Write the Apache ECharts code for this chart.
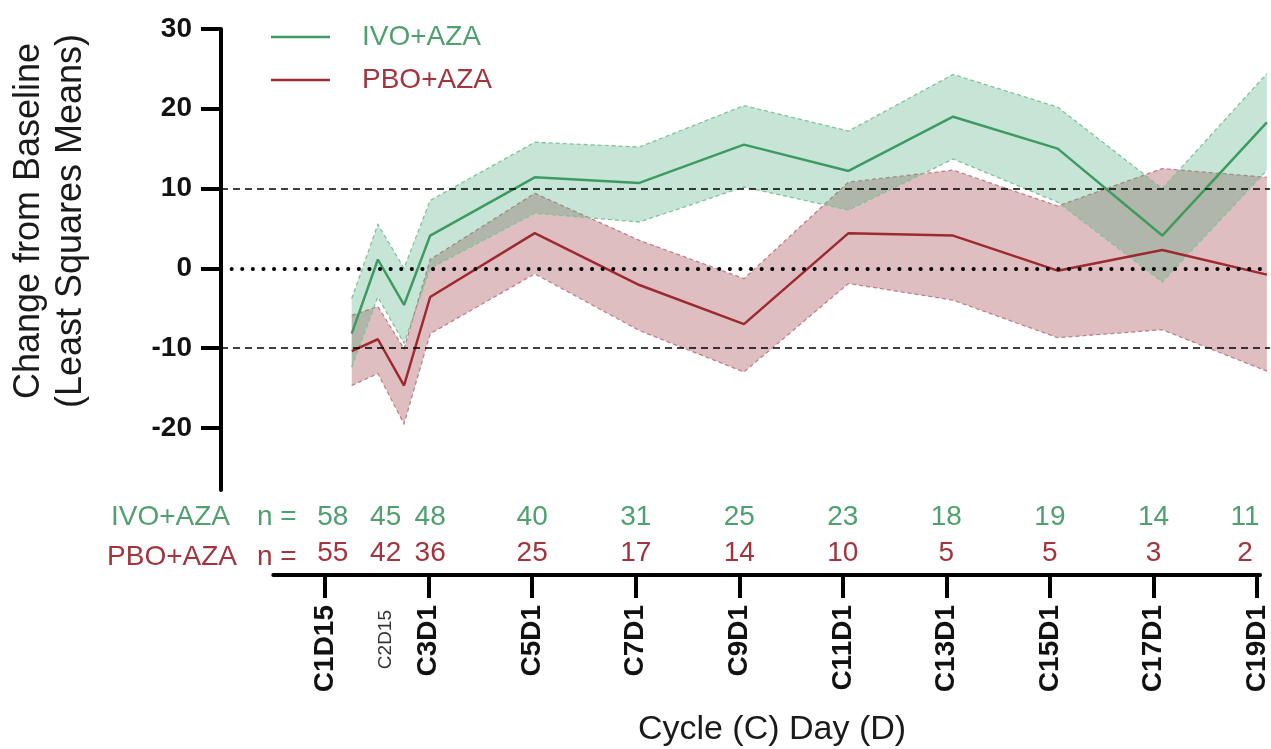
<!DOCTYPE html>
<html><head><meta charset="utf-8">
<script src="https://cdn.jsdelivr.net/npm/echarts@6/dist/echarts.min.js"></script>
<style>html,body{margin:0;padding:0;background:#fff}#c{width:1271px;height:749px}</style>
</head><body><div id="c"></div>
<script>
// ---- data (x in cycle units: 1 = C1D15 tick, 3 = C3D1, ...) ----
const visits   = [1.5, 2, 2.5, 3, 5, 7, 9, 11, 13, 15, 17, 19];
const ivoMean  = [-8.2, 1.1, -4.6, 4.1, 11.4, 10.7, 15.5, 12.2, 19.0, 15.0, 4.1, 18.3];
const ivoUpper = [-3.8, 5.5, 0.0, 8.5, 15.8, 15.2, 20.4, 17.2, 24.3, 20.2, 10.0, 24.4];
const ivoLower = [-12.4, -3.6, -9.4, 0.0, 6.9, 5.8, 10.2, 7.3, 13.7, 8.3, -1.7, 12.3];
const pboMean  = [-10.4, -8.9, -14.7, -3.6, 4.4, -2.1, -7.0, 4.4, 4.1, -0.3, 2.3, -0.8];
const pboUpper = [-5.9, -4.8, -10.1, 1.1, 9.4, 3.5, -1.3, 10.8, 12.3, 7.8, 12.5, 11.4];
const pboLower = [-14.7, -13.2, -19.5, -8.2, -0.7, -7.8, -13.0, -1.9, -4.0, -8.7, -7.7, -12.9];

const tickValues = [1, 3, 5, 7, 9, 11, 13, 15, 17, 19];
const tickLabels = ['C1D15', 'C3D1', 'C5D1', 'C7D1', 'C9D1', 'C11D1', 'C13D1', 'C15D1', 'C17D1', 'C19D1'];
const minorTickValue = 2.17;
const minorTickLabel = 'C2D15';

const nPositions = [1.15, 2.17, 3.03, 5, 7, 9, 11, 13, 15, 17, 18.77];
const nIvo = [58, 45, 48, 40, 31, 25, 23, 18, 19, 14, 11];
const nPbo = [55, 42, 36, 25, 17, 14, 10, 5, 5, 3, 2];

const yTicks = [-20, -10, 0, 10, 20, 30];
const refDashed = [10, -10];
const refDotted = [0];

// ---- styles ----
const FONT = 'Liberation Sans, Arial, Helvetica, sans-serif';
const GREEN_LINE = '#3f9a62', GREEN_TEXT = '#4fa06e', GREEN_FILL = 'rgba(70,170,120,0.30)', GREEN_EDGE = '#7fc29b';
const RED_LINE = '#9c2a30', RED_TEXT = '#a3343d', RED_FILL = 'rgba(150,40,50,0.30)', RED_EDGE = '#c08088';
const X_MAX = 19.06, Y_MIN = -27.8, Y_MAX = 30;
const LEGEND_ICON = 'path://M0,0 H100 V4 H0 Z';

function bandSeries(name, upper, lower, fill, edge) {
  return {
    name: name, type: 'custom', xAxisIndex: 0, yAxisIndex: 0, silent: true, z: 1,
    data: visits.map((x, i) => [x, upper[i], lower[i]]),
    encode: { x: 0, y: [1, 2] },
    renderItem: function (params, api) {
      if (params.dataIndex !== 0) return null;
      const up = visits.map((x, i) => api.coord([x, upper[i]]));
      const lo = visits.map((x, i) => api.coord([x, lower[i]]));
      return {
        type: 'group',
        children: [
          { type: 'polygon', shape: { points: up.concat(lo.slice().reverse()) }, style: { fill: fill } },
          { type: 'polyline', shape: { points: up }, style: { stroke: edge, lineWidth: 1.3, lineDash: [4, 3], fill: null } },
          { type: 'polyline', shape: { points: lo }, style: { stroke: edge, lineWidth: 1.3, lineDash: [4, 3], fill: null } }
        ]
      };
    }
  };
}

function lookup(arrPos, arrVal, v) {
  for (let i = 0; i < arrPos.length; i++) if (Math.abs(arrPos[i] - v) < 1e-6) return arrVal[i];
  return '';
}

const chart = echarts.init(document.getElementById('c'));
chart.setOption({
  animation: false,
  backgroundColor: '#fff',
  textStyle: { fontFamily: FONT },
  grid: [
    { left: 221, right: 1, top: 29, bottom: 259 },
    { left: 273.3, right: 1, top: 29, bottom: 259 }
  ],
  legend: {
    orient: 'vertical', left: 266, top: 18, itemWidth: 59, itemHeight: 2.5, itemGap: 15,
    data: [
      { name: 'IVO+AZA', icon: LEGEND_ICON, textStyle: { color: GREEN_TEXT } },
      { name: 'PBO+AZA', icon: LEGEND_ICON, textStyle: { color: RED_TEXT } }
    ],
    textStyle: { fontSize: 28, fontFamily: FONT, padding: [0, 0, 0, 27] }
  },
  xAxis: [
    { type: 'value', gridIndex: 0, min: -1, max: X_MAX, show: false, axisLine: { onZero: false } },
    {
      type: 'value', gridIndex: 1, min: 0, max: X_MAX, position: 'bottom', offset: 85,
      splitLine: { show: false },
      axisLine: { show: true, onZero: false, lineStyle: { color: '#000', width: 4 } },
      axisTick: { show: true, length: 23, lineStyle: { color: '#000', width: 4 }, customValues: tickValues },
      axisLabel: {
        rotate: 90, margin: 30, customValues: tickValues.concat([minorTickValue]),
        formatter: function (v) {
          if (Math.abs(v - minorTickValue) < 1e-6) return '{m|' + minorTickLabel + '}';
          return '{b|' + lookup(tickValues, tickLabels, v) + '}';
        },
        rich: {
          b: { fontSize: 28, fontWeight: 'bold', color: '#111', fontFamily: FONT },
          m: { fontSize: 19, color: '#333', fontFamily: FONT, padding: [0, 5, 0, 0] }
        }
      }
    },
    {
      type: 'value', gridIndex: 1, min: 0, max: X_MAX, position: 'bottom', offset: 0,
      splitLine: { show: false }, axisLine: { show: false, onZero: false }, axisTick: { show: false },
      axisLabel: {
        customValues: nPositions, margin: 13, fontSize: 28, color: GREEN_TEXT, fontFamily: FONT,
        formatter: v => String(lookup(nPositions, nIvo, v))
      }
    },
    {
      type: 'value', gridIndex: 1, min: 0, max: X_MAX, position: 'bottom', offset: 0,
      splitLine: { show: false }, axisLine: { show: false, onZero: false }, axisTick: { show: false },
      axisLabel: {
        customValues: nPositions, margin: 49, fontSize: 28, color: RED_TEXT, fontFamily: FONT,
        formatter: v => String(lookup(nPositions, nPbo, v))
      }
    }
  ],
  yAxis: [
    {
      type: 'value', gridIndex: 0, min: Y_MIN, max: Y_MAX, position: 'left',
      splitLine: { show: false },
      axisLine: { show: true, onZero: false, lineStyle: { color: '#000', width: 4 } },
      axisTick: { show: true, length: 20, lineStyle: { color: '#000', width: 4 }, customValues: yTicks },
      axisLabel: { customValues: yTicks, margin: 29, fontSize: 28, fontWeight: 'bold', color: '#111', fontFamily: FONT }
    },
    { type: 'value', gridIndex: 1, min: Y_MIN, max: Y_MAX, show: false, axisLine: { onZero: false } }
  ],
  graphic: [
    { type: 'text', x: 50, y: 221, rotation: Math.PI / 2, silent: true,
      style: { text: 'Change from Baseline\n(Least Squares Means)', fontSize: 36, fontFamily: FONT, fill: '#1a1a1a',
               align: 'center', verticalAlign: 'middle', lineHeight: 42 } },
    { type: 'text', x: 772, y: 730, silent: true,
      style: { text: 'Cycle (C) Day (D)', fontSize: 34, fontFamily: FONT, fill: '#1a1a1a', align: 'center', verticalAlign: 'middle' } },
    { type: 'text', x: 230, y: 517, silent: true,
      style: { text: 'IVO+AZA', fontSize: 28, fontFamily: FONT, fill: GREEN_TEXT, align: 'right', verticalAlign: 'middle' } },
    { type: 'text', x: 257, y: 517, silent: true,
      style: { text: 'n =', fontSize: 28, fontFamily: FONT, fill: GREEN_TEXT, align: 'left', verticalAlign: 'middle' } },
    { type: 'text', x: 237, y: 557, silent: true,
      style: { text: 'PBO+AZA', fontSize: 28, fontFamily: FONT, fill: RED_TEXT, align: 'right', verticalAlign: 'middle' } },
    { type: 'text', x: 257, y: 557, silent: true,
      style: { text: 'n =', fontSize: 28, fontFamily: FONT, fill: RED_TEXT, align: 'left', verticalAlign: 'middle' } }
  ],
  series: [
    bandSeries('pboBand', pboUpper, pboLower, RED_FILL, RED_EDGE),
    bandSeries('ivoBand', ivoUpper, ivoLower, GREEN_FILL, GREEN_EDGE),
    {
      name: 'IVO+AZA', type: 'line', xAxisIndex: 0, yAxisIndex: 0, z: 3,
      data: visits.map((x, i) => [x, ivoMean[i]]),
      symbol: 'none', showSymbol: false, color: GREEN_LINE,
      lineStyle: { color: GREEN_LINE, width: 2.5 },
      markLine: {
        silent: true, symbol: ['none', 'none'], label: { show: false },
        data: refDashed.map(v => ({ yAxis: v, lineStyle: { color: '#000', width: 1.5, type: [7, 5] } }))
      }
    },
    {
      name: 'PBO+AZA', type: 'line', xAxisIndex: 0, yAxisIndex: 0, z: 3,
      data: visits.map((x, i) => [x, pboMean[i]]),
      symbol: 'none', showSymbol: false, color: RED_LINE,
      lineStyle: { color: RED_LINE, width: 2.5 },
      markLine: {
        silent: true, symbol: ['none', 'none'], label: { show: false },
        data: refDotted.map(v => ({ yAxis: v, lineStyle: { color: '#000', width: 4, type: [0.1, 10.5], cap: 'round' } }))
      }
    }
  ]
});
</script>
</body></html>
